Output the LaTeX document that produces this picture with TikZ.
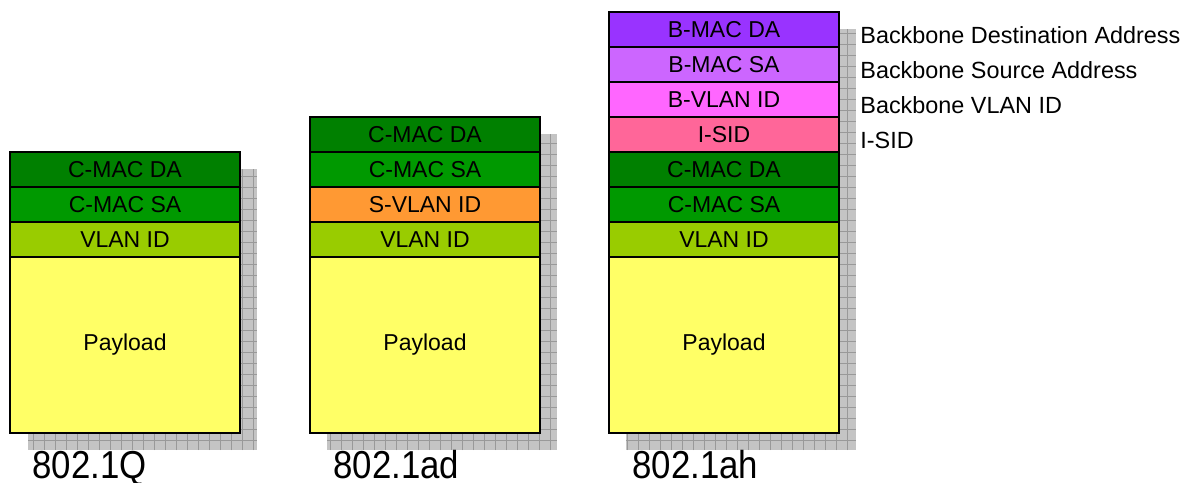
\documentclass[tikz,border=0pt]{standalone}
\usepackage{fontspec}
\setmainfont{Liberation Sans}
\usetikzlibrary{positioning}
\definecolor{cmacda}{HTML}{008000}
\definecolor{cmacsa}{HTML}{009900}
\definecolor{vlanid}{HTML}{99CC00}
\definecolor{payload}{HTML}{FFFF66}
\definecolor{svlan}{HTML}{FF9933}
\definecolor{bmacda}{HTML}{9933FF}
\definecolor{bmacsa}{HTML}{CC66FF}
\definecolor{bvlan}{HTML}{FF66FF}
\definecolor{isid}{HTML}{FF6699}
\definecolor{shadowgray}{HTML}{C4C4C4}
\definecolor{gridgray}{HTML}{999999}
\begin{document}
\begin{tikzpicture}[x=0.5pt, y=-0.5pt,
  fld/.style={rectangle, draw, line width=1pt, outer sep=0pt, inner sep=0pt, minimum width=115pt, minimum height=17.5pt, anchor=center, font=\fontsize{11.5}{13}\selectfont},
  pay/.style={fld, minimum height=88pt, fill=payload},
  shade/.style={fill=shadowgray},
  shadegrid/.style={draw=gridgray, line width=0.5pt, step=5.5pt},
  side/.style={anchor=base west, inner sep=0pt, font=\fontsize{11.7}{13}\selectfont},
  std/.style={anchor=base west, inner sep=0pt, yscale=1.12, font=\fontsize{17.4}{20}\selectfont}
]
\useasboundingbox (0,0) rectangle (1183,482);
% Shadows
\fill[shade] (28,169) rectangle (257,450);
\draw[shadegrid] (28,169) grid (257,450);
\fill[shade] (327,134) rectangle (557,450);
\draw[shadegrid] (327,134) grid (557,450);
\fill[shade] (626,29) rectangle (856,450);
\draw[shadegrid] (626,29) grid (856,450);
% 802.1Q frame
\node[fld, fill=cmacda] (q-da)  at (125,169.5) {C-MAC DA};
\node[fld, fill=cmacsa] (q-sa)  at (125,204.5) {C-MAC SA};
\node[fld, fill=vlanid] (q-vid) at (125,239.5) {VLAN ID};
\node[pay]              (q-pl)  at (125,345)   {Payload};
% 802.1ad frame
\node[fld, fill=cmacda] (ad-da)   at (425,134.5) {C-MAC DA};
\node[fld, fill=cmacsa] (ad-sa)   at (425,169.5) {C-MAC SA};
\node[fld, fill=svlan]  (ad-svid) at (425,204.5) {S-VLAN ID};
\node[fld, fill=vlanid] (ad-vid)  at (425,239.5) {VLAN ID};
\node[pay]              (ad-pl)   at (425,345)   {Payload};
% 802.1ah frame
\node[fld, fill=bmacda] (ah-bda)  at (724,29.5)  {B-MAC DA};
\node[fld, fill=bmacsa] (ah-bsa)  at (724,64.5)  {B-MAC SA};
\node[fld, fill=bvlan]  (ah-bvid) at (724,99.5)  {B-VLAN ID};
\node[fld, fill=isid]   (ah-isid) at (724,134.5) {I-SID};
\node[fld, fill=cmacda] (ah-da)   at (724,169.5) {C-MAC DA};
\node[fld, fill=cmacsa] (ah-sa)   at (724,204.5) {C-MAC SA};
\node[fld, fill=vlanid] (ah-vid)  at (724,239.5) {VLAN ID};
\node[pay]              (ah-pl)   at (724,345)   {Payload};
% Backbone field names
\node[side] (n-bda)  at (860,43)  {Backbone Destination Address};
\node[side] (n-bsa)  at (860,78)  {Backbone Source Address};
\node[side] (n-bvid) at (860,113) {Backbone VLAN ID};
\node[side] (n-isid) at (860,148) {I-SID};
% Standards
\node[std] (s-q)  at (32,478)  {802.1Q};
\node[std] (s-ad) at (333,478) {802.1ad};
\node[std] (s-ah) at (632,478) {802.1ah};
\end{tikzpicture}
\end{document}
